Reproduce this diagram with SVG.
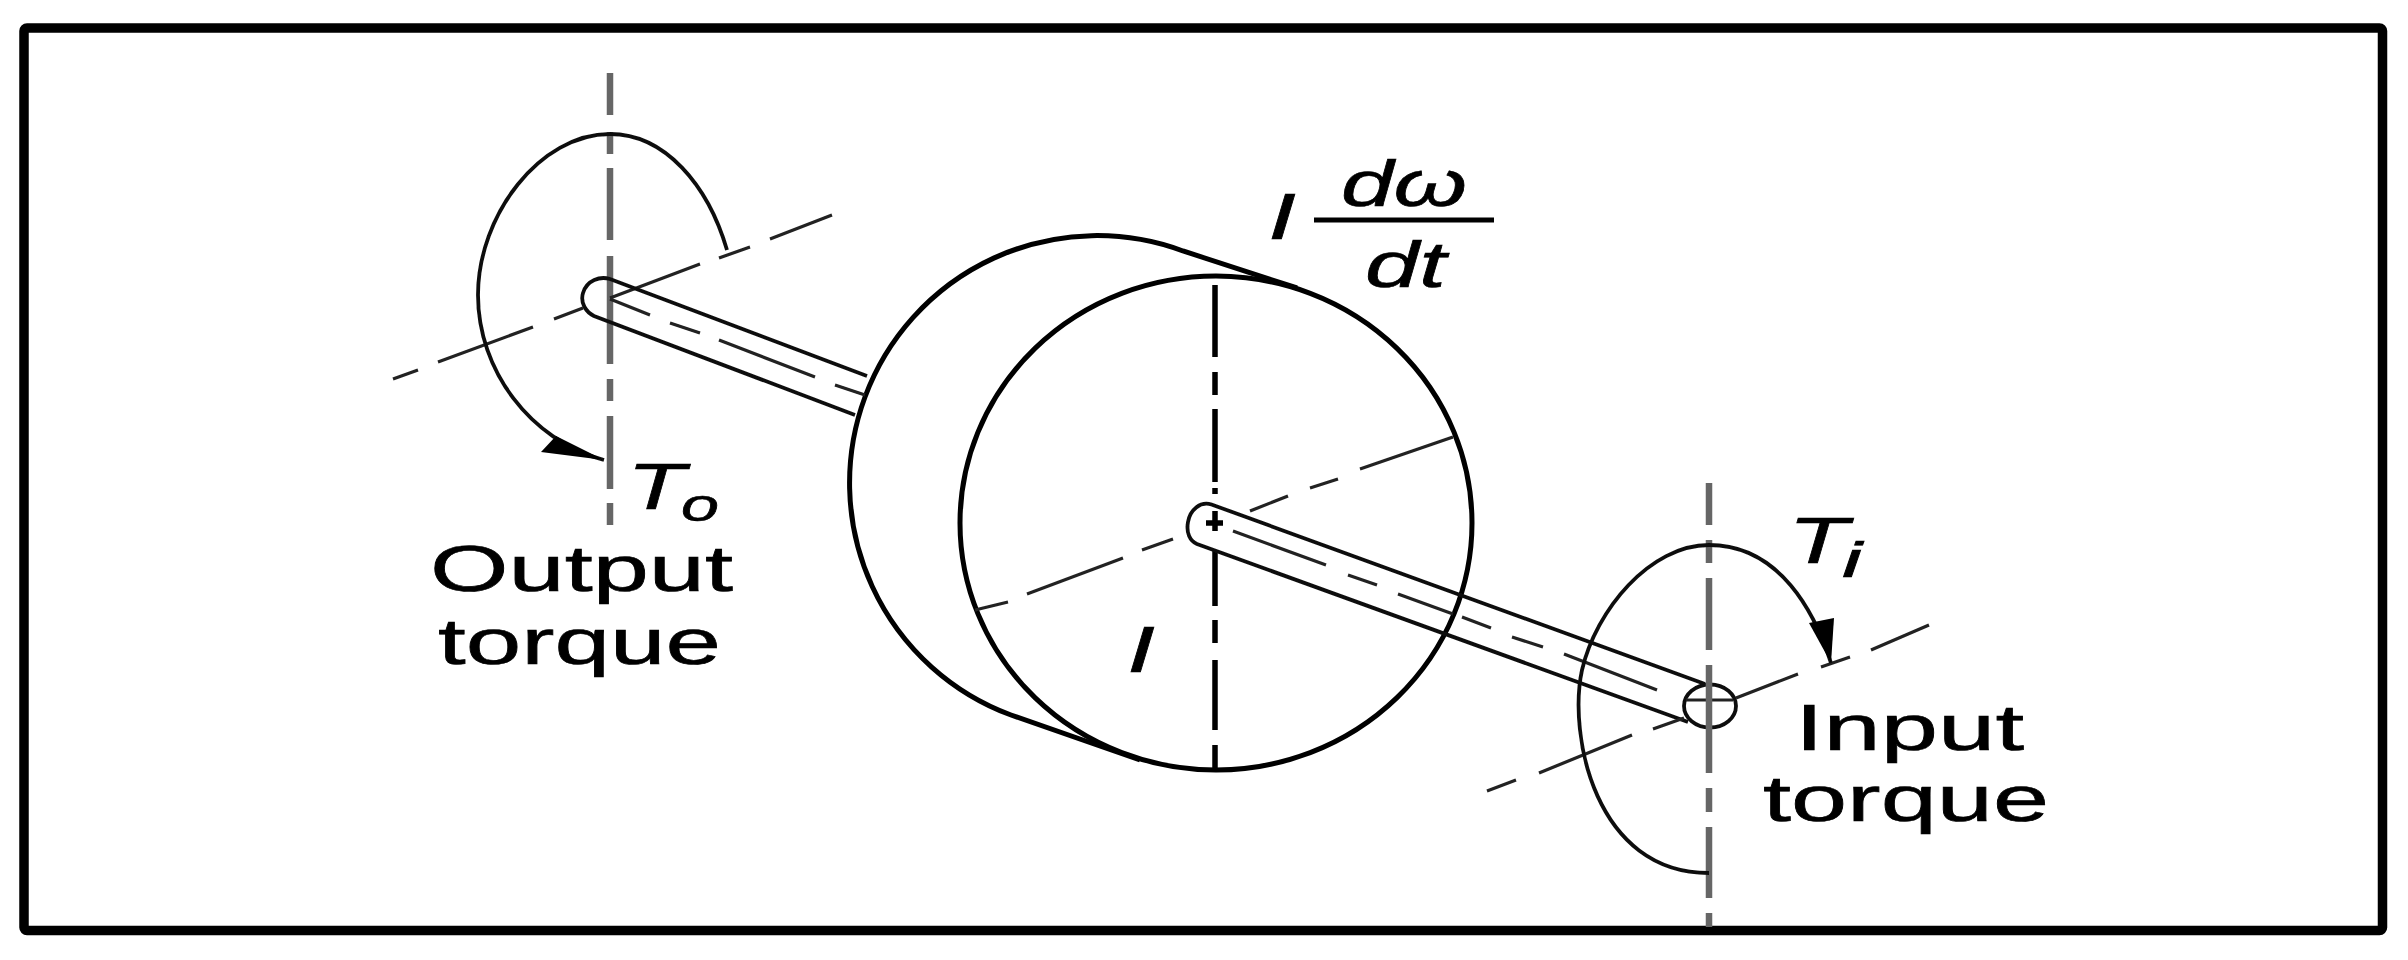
<svg xmlns="http://www.w3.org/2000/svg" width="2408" height="960" viewBox="0 0 2408 960">
<defs>
<style>
.heavy{fill:none;stroke:#000;stroke-width:5}
.med{fill:none;stroke:#111;stroke-width:3.8}
.thin{fill:none;stroke:#222;stroke-width:3.2}
.axis{fill:none;stroke:#666;stroke-width:6.5}
.caxis{fill:none;stroke:#000;stroke-width:5.5}
text{font-family:"Liberation Sans",Arial,sans-serif;fill:#000;font-size:65px;stroke:#000;stroke-width:0.6}
.it{font-style:italic}
</style>
<filter id="soft" x="-2%" y="-2%" width="104%" height="104%"><feGaussianBlur stdDeviation="0.7"/></filter>
</defs>
<rect width="2408" height="960" fill="#fff"/>
<rect id="frame" x="24" y="28" width="2358.500" height="902.500" rx="3" fill="none" stroke="#000" stroke-width="9.500"/>
<g id="drawing" filter="url(#soft)">
<g id="disc">
<path class="heavy" d="M1297,288 L1183,251 A247,247 0 0 0 1011,715 L1140,760"/>
<ellipse class="heavy" cx="1216" cy="523" rx="256" ry="247"/>
<path class="caxis" d="M1215,285V357M1215,372V395M1215,409V482M1215,488V494M1215,511V531M1206,523H1223M1215,550V606M1215,620V643M1215,660V730M1215,745V768"/>
<path class="thin" d="M975,610L1008,602M1027,594L1123,558M1142,550L1173,539M1250,511L1288,496M1310,488L1338,479M1360,469L1453,437"/>
</g>
<g id="output-shaft">
<path class="axis" d="M610,73V115M610,132V154M610,168V240M610,256V364M610,379V401M610,416V489M610,503V525"/>
<path class="thin" d="M393,379L418,370M438,362L533,327M554,319L583,308M610,298L700,264M719,258L750,247M770,239L832,215"/>
<path class="med" d="M867,376L610,279C600,276 587,280 583,293C580,303 586,312 594,316L855,415"/>
<path class="thin" d="M610,299L650,315M670,323L700,333M719,340L815,377M835,385L865,395"/>
<path class="med" d="M727,250C708,185 665,134 610,134C540,134 478,215 478,295C478,370 530,440 604,460"/>
<path d="M604,460L541,452L556,436Z" fill="#000"/>
</g>
<g id="input-shaft">
<path class="med" d="M1705,684L1211.500,504.500C1200,501 1190,510 1188,522C1186,533 1190,541 1197,544L1688,722"/>
<path class="thin" d="M1233,531L1326,565M1348,575L1377,585M1398,594L1453,614M1462,617L1491,628M1512,637L1543,647M1564,654L1657,690"/>
<ellipse class="med" cx="1710" cy="706" rx="26" ry="21.500"/>
<path class="thin" d="M1686,700H1733"/>
<path class="axis" d="M1709,483V525M1709,540V563M1709,578V650M1709,665V773M1709,788V812M1709,827V898M1709,913V927"/>
<path class="thin" d="M1487,791L1516,780M1539,773L1632,735M1653,729L1684,718M1736,698L1798,674M1821,667L1850,657M1871,650L1929,625"/>
<path class="med" d="M1831,663C1815,613 1780,545 1709,545C1650,545 1596,610 1582,670C1568,735 1595,873 1709,873"/>
<path d="M1831,663L1809,623L1834,618Z" fill="#000"/>
</g>
<g id="labels">
<text class="it" x="627" y="509" textLength="58" lengthAdjust="spacingAndGlyphs">T</text>
<text class="it" x="681" y="521" style="font-size:46px" textLength="38" lengthAdjust="spacingAndGlyphs">o</text>
<text x="430" y="591" textLength="303" lengthAdjust="spacingAndGlyphs">Output</text>
<text x="438" y="664" textLength="283" lengthAdjust="spacingAndGlyphs">torque</text>
<text class="it" x="1268" y="239" textLength="28" lengthAdjust="spacingAndGlyphs">I</text>
<text class="it" x="1341" y="206" textLength="126" lengthAdjust="spacingAndGlyphs">dω</text>
<path d="M1314,220H1494" stroke="#000" stroke-width="5" fill="none"/>
<text class="it" x="1365" y="287" textLength="81" lengthAdjust="spacingAndGlyphs">dt</text>
<text class="it" x="1127" y="672" textLength="28" lengthAdjust="spacingAndGlyphs">I</text>
<text class="it" x="1788" y="563" textLength="60" lengthAdjust="spacingAndGlyphs">T</text>
<text class="it" x="1842" y="577" style="font-size:50px" textLength="20" lengthAdjust="spacingAndGlyphs">i</text>
<text x="1795" y="750" textLength="229" lengthAdjust="spacingAndGlyphs">Input</text>
<text x="1763" y="821" textLength="286" lengthAdjust="spacingAndGlyphs">torque</text>
</g>
</g>
</svg>
